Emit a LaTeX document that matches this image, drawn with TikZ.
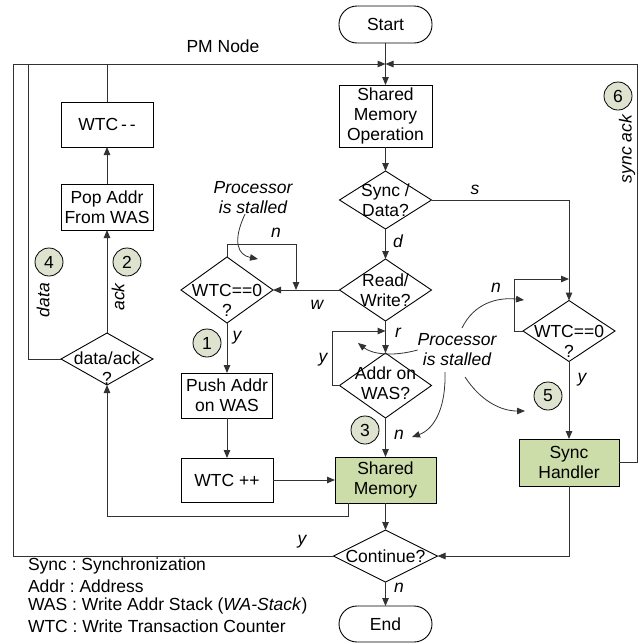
\documentclass[tikz,border=0pt]{standalone}
\usepackage{fontspec}
\setmainfont{Liberation Sans}
\usetikzlibrary{arrows.meta,shapes.geometric,calc}
\definecolor{gfill}{RGB}{205,221,170}
\definecolor{cfill}{RGB}{222,227,208}
\definecolor{ln}{RGB}{50,50,50}
\frenchspacing
\begin{document}
\begin{tikzpicture}[x=1pt,y=-1pt,
  font=\fontsize{17.5}{20}\selectfont,
  every node/.style={inner sep=0pt,outer sep=0pt},
  wh/.style 2 args={minimum width=#1pt,minimum height=#2pt},
  box/.style={draw=black,line width=0.9pt,rectangle,align=center},
  gbox/.style={box,fill=gfill},
  term/.style={draw=black,line width=0.9pt,rectangle,rounded corners=18pt,align=center},
  dia/.style={draw=black,line width=0.9pt,diamond},
  dtxt/.style={align=center},
  num/.style={draw=black,line width=0.8pt,circle,fill=cfill,minimum size=28pt},
  lab/.style={font=\fontsize{17.5}{20}\selectfont\itshape},
  arr/.style={draw=ln,line width=1pt,-{Triangle[length=8pt,width=6.5pt]}},
  con/.style={draw=ln,line width=1pt},
  note/.style={font=\fontsize{17.5}{20}\selectfont\itshape,align=center}]
\useasboundingbox (0,0) rectangle (644,643);

% ---- nodes ----
\node[term,wh={93}{37}] (start) at (385.5,24.5) {Start};
\node[box,wh={93}{62}] (smo) at (385.5,116) {Shared\\Memory\\Operation};
\node[dia,wh={92}{58}] (sd) at (385.5,200) {};
\node[dtxt] (sdT) at (sd) {Sync /\\Data?};
\node[dia,wh={92}{62}] (rw) at (385.5,290) {};
\node[dtxt] (rwT) at (rw) {Read/\\Write?};
\node[dia,wh={92}{66}] (wtcL) at (227,290) {};
\node[dtxt] (wtcLT) at (227,300) {WTC==0\\?};
\node[box,wh={91}{45}] (push) at (227,395.5) {Push Addr\\on WAS};
\node[box,wh={92}{44}] (wtcpp) at (227,480) {WTC ++};
\node[dia,wh={92}{65}] (addr) at (385.5,385.5) {};
\node[dtxt] (addrT) at (385.5,383.5) {Addr on\\WAS?};
\node[gbox,wh={101}{46}] (sm) at (385.5,480) {Shared\\Memory};
\node[dia,wh={104}{52}] (cont) at (385.5,556) {};
\node[dtxt] (contT) at (cont) {Continue?};
\node[term,wh={93}{36}] (end) at (385.5,624) {End};
\node[dia,wh={92}{61}] (wtcR) at (569,331) {};
\node[dtxt] (wtcRT) at (569,341) {WTC==0\\?};
\node[gbox,wh={100}{47}] (sh) at (569,462.5) {Sync\\Handler};
\node[box,wh={92}{45}] (wtcmm) at (107,124.5) {WTC\,-\,-};
\node[box,wh={92}{46}] (pop) at (107,207) {Pop Addr\\From WAS};
\node[dia,wh={92}{52}] (da) at (107,359) {};
\node[dtxt] (daT) at (107,368) {data/ack\\?};

% numbered circles
\node[num] (c1) at (207,343) {1};
\node[num] (c2) at (127,262) {2};
\node[num] (c3) at (365,430) {3};
\node[num] (c4) at (49,262) {4};
\node[num] (c5) at (548,396) {5};
\node[num] (c6) at (618,96) {6};

% ---- coordinates ----
\coordinate (jn) at (385.5,64);
\coordinate (tl) at (13,64);
\coordinate (bl) at (13,556);
\coordinate (dtop) at (28,64);
\coordinate (tr) at (637,64);
\coordinate (loopL) at (296,290);
\coordinate (addrin) at (385.5,331);
\coordinate (rin) at (569,279);

% ---- connectors ----
\draw[arr] (start) -- (smo);
\draw[arr] (cont.west) -- (bl) -- (tl) -- (jn);
\draw[con] (da.west) -| (dtop);
\draw[con] (wtcmm.north) -- (wtcmm.north |- tl);
\draw[arr] (sh.east) -- (sh.east -| tr) -- (tr) -- (jn);
\draw[arr] (da) -- (pop);
\draw[arr] (pop) -- (wtcmm);
\draw[arr] ([xshift=-37.5pt]sm.south) -- ++(0,13) -| (da.south);
\draw[arr] (smo) -- (sd);
\draw[arr] (sd) -- (rw);
\draw[arr] (sd.east) -| (wtcR.north);
\draw[arr] (rw.west) -- (wtcL.east);
\draw[arr] (wtcL.north) -- ++(0,-13) -| (loopL);
\draw[arr] (wtcL) -- (push);
\draw[arr] (push) -- (wtcpp);
\draw[arr] (wtcpp) -- (sm);
\draw[arr] (rw) -- (addr);
\draw[arr] (addr.west) -- ++(-7,0) |- (addrin);
\draw[arr] (addr) -- (sm);
\draw[arr] (sm) -- (cont);
\draw[arr] (cont) -- (end);
\draw[arr] (wtcR.west) -- ++(-9,0) |- (rin);
\draw[arr] (wtcR) -- (sh);
\draw[arr] (sh.south) |- (cont.east);

% ---- notes ----
\node[note] (ps1) at (253,198) {Processor\\is stalled};
\node[note] (ps2) at (457,350) {Processor\\is stalled};
\draw[arr,line width=0.8pt] ([xshift=-8pt]ps1.south) .. controls (232,242) and (238,255) .. (258,259);
\draw[arr,line width=0.8pt] (ps2.west) .. controls (392,357) and (372,354) .. (358,343);
\draw[arr,line width=0.8pt] (445,372) .. controls (446,412) and (432,430) .. (412,437);
\draw[arr,line width=0.8pt] (465,377) .. controls (480,400) and (500,411) .. (525,411);
\draw[arr,line width=0.8pt] (462,328) .. controls (474,303) and (498,297) .. (524,300);

% ---- labels ----
\node[lab] (ln1) at (276,233) {n};
\node[lab] (lw) at (317,305) {w};
\node[lab] (ly1) at (237,338) {y};
\node[lab] (ld) at (398,241) {d};
\node[lab] (ls) at (475,190) {s};
\node[lab] (lr) at (398,333) {r};
\node[lab] (ly2) at (323,360) {y};
\node[lab] (ln2) at (399,435) {n};
\node[lab] (ln3) at (496,288) {n};
\node[lab] (ly3) at (582,380) {y};
\node[lab] (ln4) at (399,588) {n};
\node[lab] (ly4) at (302,542) {y};
\node[lab,rotate=90] (ldata) at (43,300) {data};
\node[lab,rotate=90] (lack) at (118,297) {ack};
\node[lab,rotate=90] (lsync) at (627,149) {sync ack};
\node (pm) at (223,46) {PM Node};

% ---- legend ----
\node[anchor=west] (lg1) at (28,566) {Sync : Synchronization};
\node[anchor=west] (lg2) at (28,586) {Addr : Address};
\node[anchor=west] (lg3) at (28,606) {WAS : Write Addr Stack (\textit{WA-Stack})};
\node[anchor=west] (lg4) at (28,626) {WTC : Write Transaction Counter};
\end{tikzpicture}
\end{document}
